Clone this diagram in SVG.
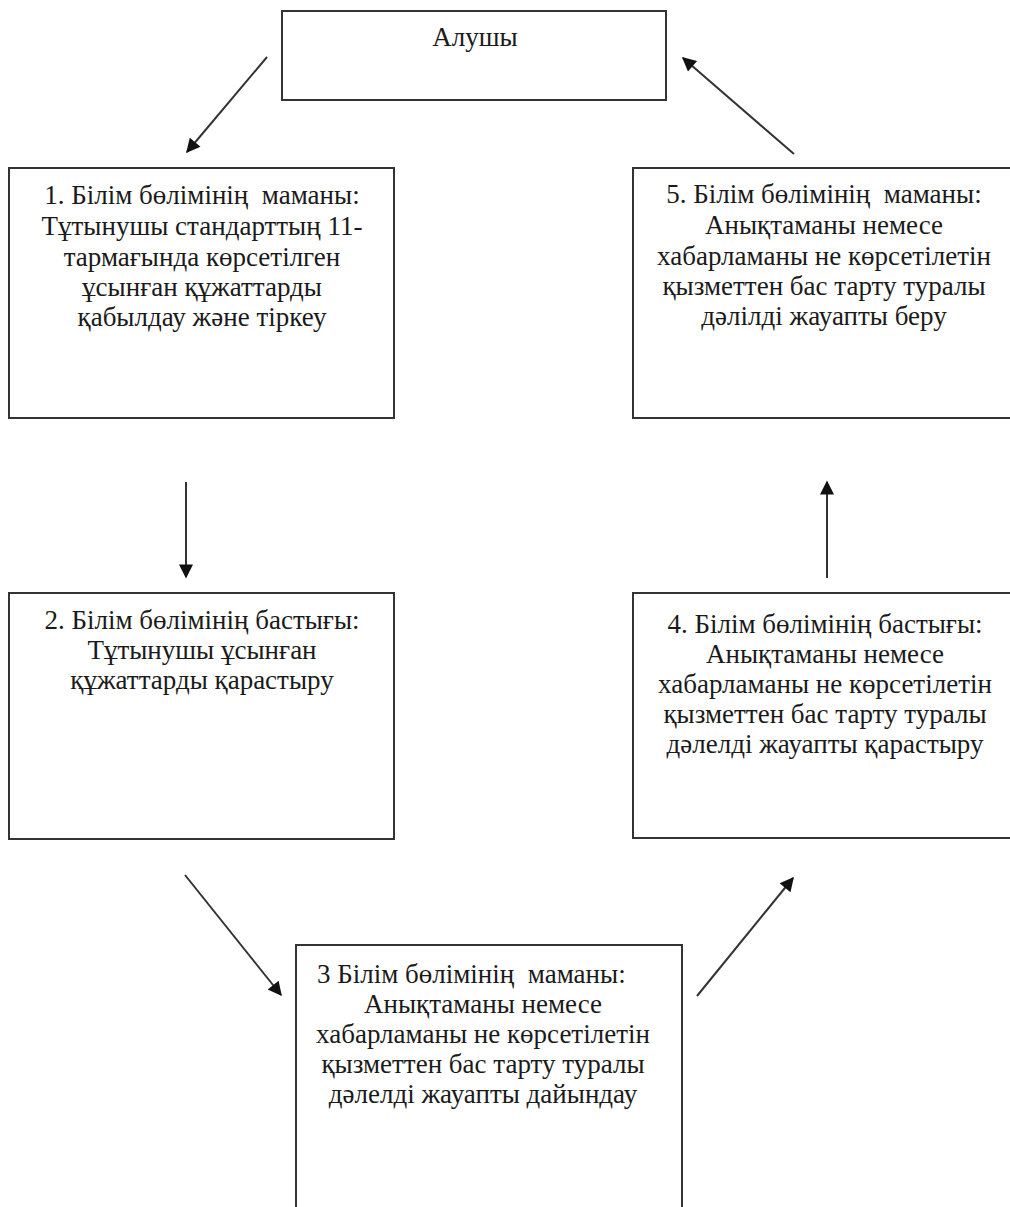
<svg xmlns="http://www.w3.org/2000/svg" width="1010" height="1207" viewBox="0 0 1010 1207">
<style>
.box{fill:#fff;stroke:#333;stroke-width:2}
.t{font-family:'Liberation Serif','Times New Roman',serif;font-size:27px;fill:#1a1a1a;text-anchor:middle;white-space:pre}
.l{text-anchor:start}
.c{stroke:#333;stroke-width:2;fill:none;marker-end:url(#ah)}
</style>
<defs>
<marker id="ah" viewBox="0 0 10 10" refX="9" refY="5" markerWidth="16" markerHeight="14" markerUnits="userSpaceOnUse" orient="auto">
<path d="M0,0 L10,5 L0,10 z" fill="#111"/>
</marker>
</defs>
<rect width="1010" height="1207" fill="#fff"/>
<g id="connectors">
<line class="c" x1="267" y1="57" x2="187" y2="152"/>
<line class="c" x1="186" y1="482" x2="186" y2="577"/>
<line class="c" x1="185" y1="875" x2="281" y2="995"/>
<line class="c" x1="697" y1="996" x2="793" y2="878"/>
<line class="c" x1="827" y1="578" x2="827" y2="482"/>
<line class="c" x1="794" y1="154" x2="683" y2="58"/>
</g>
<g id="node-alushy">
<rect class="box" x="282" y="11" width="384" height="89"/>
<text class="t" x="475" y="46">Алушы</text>
</g>
<g id="node-1">
<rect class="box" x="9" y="168" width="385" height="250"/>
<text class="t" x="202" y="204">1. Білім бөлімінің  маманы:</text>
<text class="t" x="202" y="235">Тұтынушы стандарттың 11-</text>
<text class="t" x="202" y="266">тармағында көрсетілген</text>
<text class="t" x="202" y="296">ұсынған құжаттарды</text>
<text class="t" x="202" y="326">қабылдау және тіркеу</text>
</g>
<g id="node-2">
<rect class="box" x="9" y="593" width="385" height="246"/>
<text class="t" x="202" y="629">2. Білім бөлімінің бастығы:</text>
<text class="t" x="202" y="659">Тұтынушы ұсынған</text>
<text class="t" x="202" y="689">құжаттарды қарастыру</text>
</g>
<g id="node-3">
<rect class="box" x="296" y="945" width="386" height="280"/>
<text class="t l" x="317" y="983">3 Білім бөлімінің  маманы:</text>
<text class="t" x="483" y="1013">Анықтаманы немесе</text>
<text class="t" x="483" y="1043">хабарламаны не көрсетілетін</text>
<text class="t" x="483" y="1073">қызметтен бас тарту туралы</text>
<text class="t" x="483" y="1103">дәлелді жауапты дайындау</text>
</g>
<g id="node-4">
<rect class="box" x="633" y="593" width="385" height="245"/>
<text class="t" x="825" y="633">4. Білім бөлімінің бастығы:</text>
<text class="t" x="825" y="663">Анықтаманы немесе</text>
<text class="t" x="825" y="693">хабарламаны не көрсетілетін</text>
<text class="t" x="825" y="723">қызметтен бас тарту туралы</text>
<text class="t" x="825" y="753">дәлелді жауапты қарастыру</text>
</g>
<g id="node-5">
<rect class="box" x="633" y="168" width="385" height="250"/>
<text class="t" x="824" y="203">5. Білім бөлімінің  маманы:</text>
<text class="t" x="824" y="234">Анықтаманы немесе</text>
<text class="t" x="824" y="265">хабарламаны не көрсетілетін</text>
<text class="t" x="824" y="295">қызметтен бас тарту туралы</text>
<text class="t" x="824" y="325">дәлілді жауапты беру</text>
</g>
</svg>
